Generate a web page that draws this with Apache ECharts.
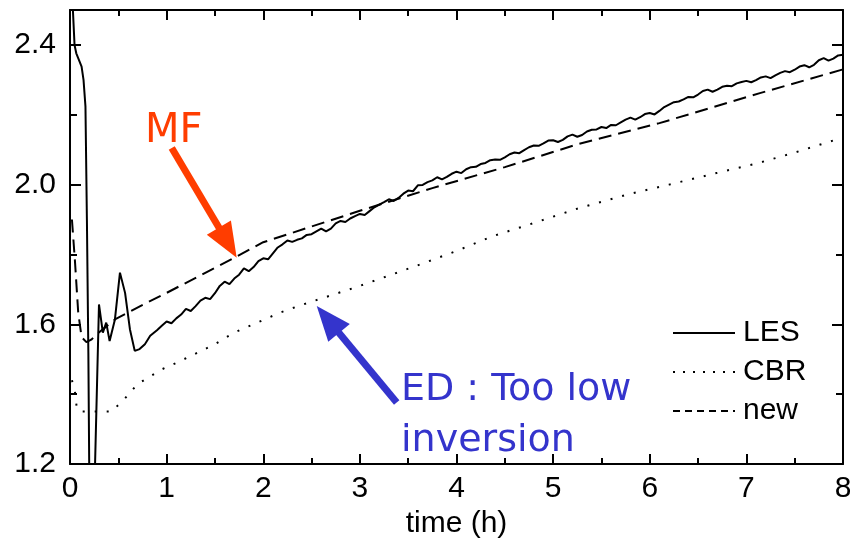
<!DOCTYPE html>
<html>
<head>
<meta charset="utf-8">
<title>LES / CBR / new</title>
<script src="https://cdn.jsdelivr.net/npm/echarts@6/dist/echarts.min.js"></script>
<style>
    html, body { margin: 0; padding: 0; background: #fff; }
    #chartBox { width: 850px; height: 544px; }
</style>
</head>
<body>
<div id="chartBox"></div>
<script>
// LES : spin-up part, then the noisy growth read every 0.05 h
var lesTime = [0.02, 0.03, 0.047, 0.065, 0.12, 0.14, 0.16, 0.175, 0.19, 0.2, 0.255, 0.3, 0.34, 0.375, 0.41, 0.465, 0.517, 0.57, 0.62, 0.67, 0.72, 0.775, 0.83,
    0.85, 0.9, 0.95, 1.0, 1.05, 1.1, 1.15, 1.2, 1.25, 1.3, 1.35, 1.4, 1.45, 1.5, 1.55, 1.6, 1.65, 1.7, 1.75, 1.8, 1.85, 1.9, 1.95, 2.0,
    2.05, 2.1, 2.15, 2.2, 2.25, 2.3, 2.35, 2.4, 2.45, 2.5, 2.55, 2.6, 2.65, 2.7, 2.75, 2.8, 2.85, 2.9, 2.95, 3.0,
    3.05, 3.1, 3.15, 3.2, 3.25, 3.3, 3.35, 3.4, 3.45, 3.5, 3.55, 3.6, 3.65, 3.7, 3.75, 3.8, 3.85, 3.9, 3.95, 4.0,
    4.05, 4.1, 4.15, 4.2, 4.25, 4.3, 4.35, 4.4, 4.45, 4.5, 4.55, 4.6, 4.65, 4.7, 4.75, 4.8, 4.85, 4.9, 4.95, 5.0,
    5.05, 5.1, 5.15, 5.2, 5.25, 5.3, 5.35, 5.4, 5.45, 5.5, 5.55, 5.6, 5.65, 5.7, 5.75, 5.8, 5.85, 5.9, 5.95, 6.0,
    6.05, 6.1, 6.15, 6.2, 6.25, 6.3, 6.35, 6.4, 6.45, 6.5, 6.55, 6.6, 6.65, 6.7, 6.75, 6.8, 6.85, 6.9, 6.95, 7.0,
    7.05, 7.1, 7.15, 7.2, 7.25, 7.3, 7.35, 7.4, 7.45, 7.5, 7.55, 7.6, 7.65, 7.7, 7.75, 7.8, 7.85, 7.9, 7.95, 8.0]
var lesValue = [2.56, 2.5, 2.4, 2.376, 2.338, 2.3, 2.224, 1.9, 1.52, 1.15, 1.15, 1.657, 1.576, 1.605, 1.552, 1.614, 1.748, 1.69, 1.586, 1.524, 1.529, 1.543, 1.567,
    1.572, 1.583, 1.596, 1.608, 1.603, 1.617, 1.628, 1.644, 1.638, 1.652, 1.668, 1.676, 1.672, 1.689, 1.71, 1.722, 1.715, 1.731, 1.742, 1.76, 1.752, 1.764, 1.781, 1.789,
    1.786, 1.803, 1.82, 1.829, 1.84, 1.836, 1.842, 1.846, 1.856, 1.858, 1.866, 1.874, 1.866, 1.874, 1.889, 1.896, 1.893, 1.903, 1.91, 1.916,
    1.913, 1.924, 1.935, 1.943, 1.95, 1.958, 1.953, 1.962, 1.974, 1.983, 1.981, 1.998, 1.999, 2.007, 2.012, 2.021, 2.015, 2.022, 2.031, 2.037,
    2.033, 2.044, 2.05, 2.051, 2.059, 2.062, 2.07, 2.072, 2.071, 2.078, 2.087, 2.092, 2.09, 2.099, 2.107, 2.112, 2.111, 2.118, 2.126, 2.127,
    2.122, 2.128, 2.138, 2.143, 2.137, 2.142, 2.152, 2.157, 2.158, 2.165, 2.162, 2.171, 2.17, 2.178, 2.186, 2.192, 2.186, 2.193, 2.202, 2.205,
    2.201, 2.211, 2.222, 2.229, 2.236, 2.238, 2.244, 2.251, 2.25, 2.258, 2.268, 2.272, 2.266, 2.272, 2.28, 2.283, 2.282, 2.29, 2.294, 2.297,
    2.293, 2.299, 2.307, 2.31, 2.305, 2.313, 2.32, 2.325, 2.322, 2.329, 2.338, 2.342, 2.336, 2.343, 2.356, 2.362, 2.355, 2.361, 2.37, 2.372]
// CBR
var cbrTime = [0.02, 0.05, 0.07, 0.1, 0.43, 0.57, 0.7, 0.95, 1.12, 1.5, 1.69, 2.17, 2.38, 2.57, 3.0, 3.62, 4.0, 4.37, 4.8, 5.27, 5.76, 6.2, 6.69, 7.1, 7.48, 8.0]
var cbrValue = [1.44, 1.41, 1.36, 1.35, 1.35, 1.388, 1.429, 1.471, 1.492, 1.543, 1.575, 1.633, 1.654, 1.671, 1.71, 1.771, 1.81, 1.852, 1.89, 1.933, 1.971, 2.0, 2.033, 2.06, 2.09, 2.135]
// new
var newTime = [0.02, 0.05, 0.085, 0.12, 0.17, 0.22, 0.275, 0.465, 0.76, 1.0, 1.69, 2.0, 2.5, 3.0, 3.75, 4.5, 5.27, 6.1, 7.14, 8.0]
var newValue = [1.9, 1.786, 1.634, 1.563, 1.549, 1.556, 1.571, 1.614, 1.657, 1.69, 1.789, 1.835, 1.88, 1.925, 1.99, 2.05, 2.117, 2.176, 2.262, 2.33]

var xTicks = [0, 1, 2, 3, 4, 5, 6, 7, 8]
var yLabels = [1.2, 1.6, 2.0, 2.4]

var mfArrow = [[1.053, 2.105], [1.633, 1.834]]
var edArrow = [[3.381, 1.376], [2.669, 1.614]]

function pairs(t, v) {
    var out = []
    for (var i = 0; i < t.length; i++) out.push([t[i], v[i]])
    return out
}

var fontName = 'Liberation Sans'
var myChart = echarts.init(document.getElementById('chartBox'), null, { renderer: 'canvas' })

function xAxisOf(pos, showLabel) {
    return {
        type: 'value', position: pos, min: xTicks[0], max: xTicks[xTicks.length - 1], interval: 1,
        name: showLabel ? 'time (h)' : '', nameLocation: 'middle', nameGap: 44,
        nameTextStyle: { fontFamily: fontName, fontSize: 30, color: '#000' },
        axisLine: { show: true, onZero: false, lineStyle: { color: '#000', width: 2 } },
        axisTick: { show: true, inside: true, length: 10, lineStyle: { color: '#000', width: 2 } },
        minorTick: { show: true, splitNumber: 2, length: 6, lineStyle: { color: '#000', width: 2 } },
        axisLabel: { show: showLabel, margin: 10, fontFamily: fontName, fontSize: 30, color: '#000' },
        splitLine: { show: false }
    }
}
function yAxisOf(pos, step, len, showLabel, showLine) {
    return {
        type: 'value', position: pos, min: 1.2, max: 2.5, interval: step,
        axisLine: { show: showLine, onZero: false, lineStyle: { color: '#000', width: 2 } },
        axisTick: { show: true, inside: true, length: len, lineStyle: { color: '#000', width: 2 } },
        axisLabel: {
            show: showLabel, margin: 14, showMaxLabel: false, fontFamily: fontName, fontSize: 30, color: '#000',
            formatter: function (v) { return yLabels.indexOf(Math.round(v * 10) / 10) > -1 ? v.toFixed(1) : '' }
        },
        splitLine: { show: false }
    }
}

var option = {
    animation: false,
    backgroundColor: '#fff',
    grid: { left: 70, right: 7, top: 10, bottom: 80, outerBoundsMode: 'none' },
    xAxis: [xAxisOf('bottom', true), xAxisOf('top', false)],
    yAxis: [
        yAxisOf('left', 0.4, 11, true, true),
        yAxisOf('left', 0.2, 7, false, false),
        yAxisOf('right', 0.4, 11, false, true),
        yAxisOf('right', 0.2, 7, false, false)
    ],
    legend: {
        orient: 'vertical', left: 672, top: 318, padding: 0,
        itemWidth: 62, itemHeight: 14, itemGap: 9, selectedMode: false,
        itemStyle: { opacity: 0 },
        textStyle: { fontFamily: fontName, fontSize: 30, color: '#000', padding: [0, 0, 0, 3] },
        data: [
            { name: 'LES' },
            { name: 'CBR', lineStyle: { type: [2, 8] } },
            { name: 'new', lineStyle: { type: [7, 5] } }
        ]
    },
    graphic: [
        {
            type: 'text', left: 145, top: 112,
            style: { text: 'MF', fill: '#ff3d00', font: '40px "DejaVu Sans"' }
        },
        {
            type: 'text', left: 401, top: 365,
            style: { text: 'ED : Too low\ninversion', fill: '#3434cc', font: '38px "DejaVu Sans"', lineHeight: 51 }
        }
    ],
    series: [
        {
            name: 'LES', type: 'line', symbol: 'none', clip: true,
            lineStyle: { color: '#000', width: 2 },
            itemStyle: { color: '#000' },
            data: pairs(lesTime, lesValue),
            z: 3
        },
        {
            name: 'CBR', type: 'line', symbol: 'none', clip: true,
            lineStyle: { color: '#000', width: 2, type: [2, 10] },
            itemStyle: { color: '#000' },
            data: pairs(cbrTime, cbrValue)
        },
        {
            name: 'new', type: 'line', symbol: 'none', clip: true,
            lineStyle: { color: '#000', width: 2, type: [13, 7] },
            itemStyle: { color: '#000' },
            data: pairs(newTime, newValue),
            // annotation arrows
            markLine: {
                silent: true, animation: false,
                symbol: ['none', 'triangle'], symbolSize: [28, 35],
                label: { show: false },
                data: [
                    [{ coord: mfArrow[0], lineStyle: { color: '#ff3d00', width: 7, type: 'solid' }, itemStyle: { color: '#ff3d00' } },
                        { coord: mfArrow[1] }],
                    [{ coord: edArrow[0], lineStyle: { color: '#3434cc', width: 7, type: 'solid' }, itemStyle: { color: '#3434cc' } },
                        { coord: edArrow[1] }]
                ]
            }
        }
    ]
}
myChart.setOption(option)
</script>
</body>
</html>
